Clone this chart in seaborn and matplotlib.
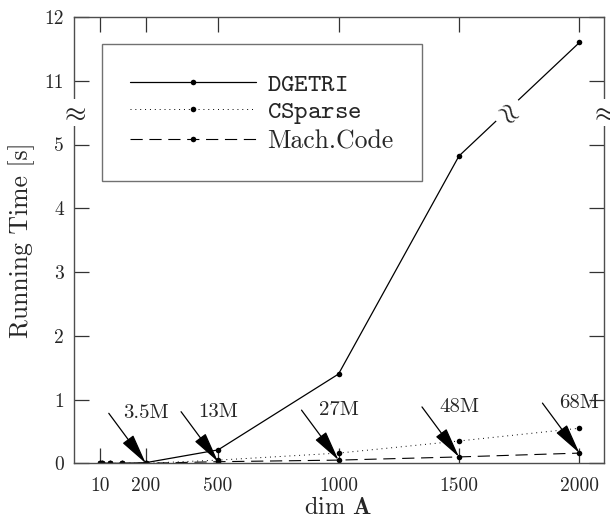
import numpy as np
import pandas as pd
import matplotlib
matplotlib.use("Agg")
import matplotlib.pyplot as plt
import matplotlib.transforms as mtransforms
import seaborn as sns

# ---------------- data ----------------
dims = [10, 20, 50, 100, 200, 500, 1000, 1500, 2000]
dgetri = [0.0, 0.0, 0.0, 0.0, 0.01, 0.21, 1.40, 4.82, 11.6]
csparse = [0.0, 0.0, 0.0, 0.0, 0.0, 0.05, 0.16, 0.35, 0.55]
machcode = [0.0, 0.0, 0.0, 0.0, 0.0, 0.025, 0.05, 0.10, 0.16]
series_names = ["DGETRI", "CSparse", "Mach.Code"]
legend_labels = [r"$\mathtt{DGETRI}$", r"$\mathtt{CSparse}$", "Mach.Code"]
arrow_dims = [200, 500, 1000, 1500, 2000]
arrow_labels = ["3.5M", "13M", "27M", "48M", "68M"]
xtick_values = [10, 200, 500, 1000, 1500, 2000]
ytick_values = [0, 1, 2, 3, 4, 5, 11, 12]

BREAK_LO, BREAK_HI = 5, 10   # y-axis break: (5, 10] collapsed


def squash(v):
    v = np.asarray(v, dtype=float)
    return np.where(v <= BREAK_LO, v, np.maximum(BREAK_LO, v - (BREAK_HI - BREAK_LO)))


# ---------------- style ----------------
sns.set_style("ticks")
plt.rcParams["font.family"] = ["cmr10", "DejaVu Serif"]
plt.rcParams["mathtext.fontset"] = "cm"
plt.rcParams["axes.formatter.use_mathtext"] = True

df = pd.DataFrame({
    "dim": dims * 3,
    "time": dgetri + csparse + machcode,
    "method": np.repeat(series_names, len(dims)),
})
df["y"] = squash(df["time"])

fig = plt.figure(figsize=(6.10, 5.18), dpi=100)
ax = fig.add_axes([0.1205, 0.1056, 0.8689, 0.8616])

styles = {
    "DGETRI": dict(linestyle="-", lw=0.9),
    "CSparse": dict(linestyle=(0, (1, 4)), lw=0.7),
    "Mach.Code": dict(linestyle=(0, (11, 6)), lw=0.8),
}
for name in series_names:
    sub = df[df["method"] == name]
    sns.lineplot(data=sub, x="dim", y="y", ax=ax, color="black",
                 marker="o", markersize=4, markeredgewidth=0,
                 estimator=None, sort=False, label=name, **styles[name])

ax.set_xlim(-100, 2100)
ax.set_ylim(0, squash(12))

ax.set_xticks(xtick_values)
ax.set_xticklabels([str(v) for v in xtick_values], fontsize=14)
ax.set_yticks(squash(ytick_values))
ax.set_yticklabels([str(v) for v in ytick_values], fontsize=14)
ax.tick_params(direction="in", length=11, width=0.9, top=True, right=True,
               color="0.2")
ax.tick_params(axis="x", pad=10)
ax.tick_params(axis="y", pad=7)

for sp in ax.spines.values():
    sp.set_color("0.3")
    sp.set_linewidth(1.0)

ax.set_xlabel(r"dim $\mathbf{A}$", fontsize=17.5, labelpad=1)
ax.set_ylabel("Running Time [s]", fontsize=18.5, labelpad=7)

# legend
handles, _ = ax.get_legend_handles_labels()
leg = ax.legend(handles, legend_labels, loc="upper left",
                bbox_to_anchor=(0.053, 0.9385), fontsize=18.5,
                frameon=True, fancybox=False, edgecolor="0.3",
                handlelength=4.9, handletextpad=0.45, numpoints=1,
                borderpad=1.1, labelspacing=0.12, borderaxespad=0)
leg.get_frame().set_linewidth(1.0)

# arrows with annotations
for d, lab in zip(arrow_dims, arrow_labels):
    yv = float(squash(np.interp(d, dims, machcode)))
    ax.annotate("", xy=(d, yv), xytext=(-37, 50), textcoords="offset pixels",
                arrowprops=dict(arrowstyle="-|>,head_length=1.0,head_width=0.22",
                                color="black", lw=0.9, shrinkA=0, shrinkB=0,
                                mutation_scale=19),
                zorder=5)
    ax.annotate(lab, xy=(d, yv), xytext=(0, 50), textcoords="offset pixels",
                ha="center", va="center", fontsize=15, zorder=5)

# break markers on the spines
ybreak = (BREAK_LO + 0.5)
trans = mtransforms.blended_transform_factory(ax.transAxes, ax.transData)
for xa in (0, 1):
    ax.text(xa, ybreak, r"$\approx$", transform=trans, ha="center", va="center",
            fontsize=20, clip_on=False, zorder=10,
            bbox=dict(fc="white", ec="none", pad=0.3))

# break marker on the DGETRI line
xb = 1700
yb = float(np.interp(xb, dims[-2:], squash(dgetri[-2:])))
ax.text(xb, yb, r"$\approx$", ha="center", va="center", fontsize=20,
        rotation=-47, rotation_mode="anchor", zorder=10,
        bbox=dict(fc="white", ec="none", pad=1.5))

fig.savefig("out.png", dpi=100)
